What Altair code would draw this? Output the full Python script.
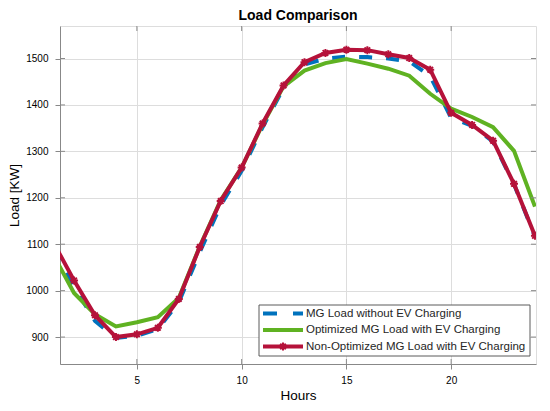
import altair as alt
import pandas as pd

# ---------------- data ----------------
hours = list(range(1, 25))
mg_no_ev = [1089, 1008, 935, 898, 903, 917, 975, 1083, 1184, 1258, 1352, 1437,
            1487, 1500, 1504, 1503, 1500, 1494, 1462, 1372, 1355, 1321, 1229, 1117]
optimized = [1078, 995, 949, 923, 932, 943, 984, 1095, 1195, 1265, 1358, 1440,
             1474, 1490, 1499, 1489, 1478, 1463, 1424, 1392, 1374, 1352, 1301, 1181]
non_optimized = [1105, 1022, 947, 900, 906, 920, 982, 1094, 1193, 1265, 1360, 1442,
                 1492, 1512, 1519, 1518, 1509, 1501, 1476, 1383, 1357, 1323, 1230, 1118]

series_names = ["MG Load without EV Charging",
                "Optimized MG Load with EV Charging",
                "Non-Optimized MG Load with EV Charging"]
series_colors = ["#0072BD", "#5FB222", "#B5123A"]

x_ticks = [5, 10, 15, 20]
y_ticks = [900, 1000, 1100, 1200, 1300, 1400, 1500]
x_domain = [1.33, 24.05]
y_domain = [842, 1570]

# ---------------- style ----------------
W, H = 476, 338
AX = "#8a8a8a"
TXT = "#262626"
FONT = "Liberation Sans"
STAR = "M0,-1V1M-1,0H1M-0.7,-0.7L0.7,0.7M-0.7,0.7L0.7,-0.7"

rows = []
for name, vals in zip(series_names, [mg_no_ev, optimized, non_optimized]):
    for h, v in zip(hours, vals):
        rows.append({"Hour": h, "Load": v, "Series": name})
df = pd.DataFrame(rows)

xs = alt.Scale(domain=x_domain, nice=False, zero=False)
ys = alt.Scale(domain=y_domain, nice=False, zero=False)
x_axis = alt.Axis(values=x_ticks, title="Hours", labelPadding=6,
                  titlePadding=3, titleFontSize=13.5, titleFontWeight="normal")
y_axis = alt.Axis(values=y_ticks, title="Load [KW]", format="d", labelPadding=7,
                  titlePadding=4, titleFontSize=13.5, titleFontWeight="normal")
x_enc = alt.X("Hour:Q", scale=xs, axis=x_axis)
y_enc = alt.Y("Load:Q", scale=ys, axis=y_axis)


def series(i):
    return alt.Chart(df).transform_filter(
        alt.FieldEqualPredicate(field="Series", equal=series_names[i]))


blue = series(0).mark_line(clip=True, strokeWidth=4, color=series_colors[0],
                           strokeDash=[13, 14]).encode(x=x_enc, y=y_enc)
green = series(1).mark_line(clip=True, strokeWidth=4, color=series_colors[1]).encode(x=x_enc, y=y_enc)
red = series(2).mark_line(clip=True, strokeWidth=4, color=series_colors[2]).encode(x=x_enc, y=y_enc)
red_pts = series(2).mark_point(clip=True, shape=STAR, size=64, filled=False,
                               strokeWidth=2, color=series_colors[2], opacity=1).encode(x=x_enc, y=y_enc)

# inward ticks on all four sides
xt = pd.DataFrame({"Hour": x_ticks})
yt = pd.DataFrame({"Load": y_ticks})
tick_b = alt.Chart(xt).mark_rule(color=AX, strokeWidth=1).encode(x=x_enc, y=alt.value(H), y2=alt.value(H - 5))
tick_t = alt.Chart(xt).mark_rule(color=AX, strokeWidth=1).encode(x=x_enc, y=alt.value(0), y2=alt.value(5))
tick_l = alt.Chart(yt).mark_rule(color=AX, strokeWidth=1).encode(y=y_enc, x=alt.value(0), x2=alt.value(5))
tick_r = alt.Chart(yt).mark_rule(color=AX, strokeWidth=1).encode(y=y_enc, x=alt.value(W), x2=alt.value(W - 5))

# legend box (placed inside the plot, lower right)
one = pd.DataFrame({"k": [0]})
LX0, LX1, LY0, LY1 = 199, 470, 279, 330
row_y = [287.5, 304, 320.5]
sym_x0, sym_x1, txt_x = 203, 243, 246

leg = [alt.Chart(one).mark_rect(fill="white", stroke="#5a5a5a", strokeWidth=1).encode(
    x=alt.value(LX0), x2=alt.value(LX1), y=alt.value(LY0), y2=alt.value(LY1))]
leg.append(alt.Chart(one).mark_rule(color=series_colors[0], strokeWidth=4, strokeDash=[14, 16]).encode(
    x=alt.value(sym_x0), x2=alt.value(sym_x1), y=alt.value(row_y[0])))
leg.append(alt.Chart(one).mark_rule(color=series_colors[1], strokeWidth=4).encode(
    x=alt.value(sym_x0), x2=alt.value(sym_x1), y=alt.value(row_y[1])))
leg.append(alt.Chart(one).mark_rule(color=series_colors[2], strokeWidth=4).encode(
    x=alt.value(sym_x0), x2=alt.value(sym_x1), y=alt.value(row_y[2])))
leg.append(alt.Chart(one).mark_point(shape=STAR, size=64, filled=False, strokeWidth=2,
                                     color=series_colors[2], opacity=1).encode(
    x=alt.value((sym_x0 + sym_x1) / 2), y=alt.value(row_y[2])))
for i in range(3):
    leg.append(alt.Chart(one).mark_text(align="left", baseline="middle", font=FONT,
                                        fontSize=11.5, color=TXT).encode(
        x=alt.value(txt_x), y=alt.value(row_y[i]), text=alt.value(series_names[i])))

chart = alt.layer(
    blue, green, red, red_pts, tick_b, tick_t, tick_l, tick_r, *leg
).properties(
    width=W, height=H,
    title=alt.TitleParams("Load Comparison", font=FONT, fontSize=14, fontWeight="bold",
                          color="#000000", offset=3, anchor="middle"),
    autosize=alt.AutoSizeParams(type="none"),
    padding={"left": 52, "top": 18, "right": 6, "bottom": 46},
).configure_view(
    stroke=AX, strokeWidth=1
).configure_axis(
    domain=False, ticks=False, grid=False,
    labelFont=FONT, labelFontSize=12, labelColor=TXT,
    titleFont=FONT, titleColor=TXT,
).configure(background="white")

chart.save("out.html", embed_options={"renderer": "svg", "actions": False})
